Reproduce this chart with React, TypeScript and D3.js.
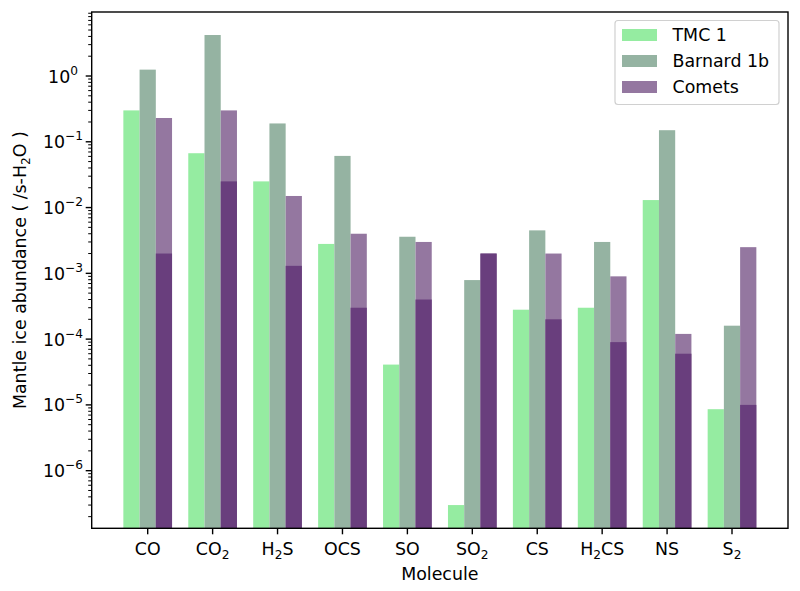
import React from 'react';
import * as d3 from 'd3';

const molecules = ['CO', 'CO2', 'H2S', 'OCS', 'SO', 'SO2', 'CS', 'H2CS', 'NS', 'S2'];
const tmc1 = [0.30, 0.067, 0.025, 0.0028, 4.1e-5, 3e-7, 2.8e-4, 3e-4, 0.013, 8.6e-6];
const barnard1b = [1.25, 4.2, 0.19, 0.061, 0.0036, 7.9e-4, 0.0045, 0.003, 0.15, 1.6e-4];
const cometsMax = [0.23, 0.30, 0.015, 0.004, 0.003, 0.002, 0.002, 9e-4, 1.2e-4, 2.5e-3];
const cometsMin = [0.002, 0.025, 0.0013, 3e-4, 4e-4, 0.002, 2e-4, 9e-5, 6e-5, 1e-5];
const decades = [-6, -5, -4, -3, -2, -1, 0];

const W = 800, H = 591;
const plot = { left: 91.7, right: 788, top: 12, bottom: 528.3 };
const font = 'DejaVu Sans, sans-serif';
const fs = 17.4;

const colors = {
  tmc: '#95eca1',
  barnard: '#95b3a2',
  cometsLight: '#9477a0',
  cometsDark: '#693e7d',
};

// split "H2CS" into chunks with subscripted digits
const chunks = (s: string) => s.match(/\d+|\D+/g) || [];

const Formula = ({ s }: { s: string }) => {
  const parts = chunks(s);
  let shifted = false;
  return (
    <>
      {parts.map((p, i) => {
        const isSub = /\d/.test(p);
        let dy = 0;
        if (isSub && !shifted) { dy = 4; shifted = true; }
        else if (!isSub && shifted) { dy = -4; shifted = false; }
        return (
          <tspan key={i} dy={dy} fontSize={isSub ? 12.2 : undefined}>{p}</tspan>
        );
      })}
    </>
  );
};

export default function App() {
  const x = d3.scaleLinear().domain([-0.8625, 9.8625]).range([plot.left, plot.right]);
  const y = d3.scaleLog().domain([1.33e-7, 9.4]).range([plot.bottom, plot.top]);
  const bw = x(0.25) - x(0);

  const minor: number[] = [];
  for (let k = -7; k <= 0; k++) {
    for (let m = 2; m <= 9; m++) {
      const v = m * Math.pow(10, k);
      if (v >= 1.33e-7 && v <= 9.4) minor.push(v);
    }
  }

  const bars = (vals: number[], off: number, fill: string, key: string) =>
    vals.map((v, i) => (
      <rect key={key + i} x={x(i + off) - bw / 2} y={y(v)} width={bw}
        height={plot.bottom - y(v)} fill={fill} />
    ));

  const legend = [
    { label: 'TMC 1', color: colors.tmc },
    { label: 'Barnard 1b', color: colors.barnard },
    { label: 'Comets', color: colors.cometsLight },
  ];

  return (
    <div style={{ position: 'absolute', left: 0, top: 0 }}>
      <svg width={W} height={H} style={{ display: 'block', background: '#fff' }} fontFamily={font}>
        <defs>
          <clipPath id="plotclip">
            <rect x={plot.left} y={plot.top} width={plot.right - plot.left} height={plot.bottom - plot.top} />
          </clipPath>
        </defs>
        <g clipPath="url(#plotclip)">
          {bars(tmc1, -0.25, colors.tmc, 't')}
          {bars(barnard1b, 0, colors.barnard, 'b')}
          {bars(cometsMax, 0.25, colors.cometsLight, 'cx')}
          {bars(cometsMin, 0.25, colors.cometsDark, 'cn')}
        </g>

        {/* y ticks */}
        {minor.map((v, i) => (
          <line key={'m' + i} x1={plot.left - 3.5} x2={plot.left} y1={y(v)} y2={y(v)} stroke="#000" strokeWidth={1} />
        ))}
        {decades.map(k => (
          <g key={'d' + k}>
            <line x1={plot.left - 6} x2={plot.left} y1={y(Math.pow(10, k))} y2={y(Math.pow(10, k))} stroke="#000" strokeWidth={1.4} />
            <text x={k === 0 ? 78 : 83} y={y(Math.pow(10, k)) + 6.5} textAnchor="end" fontSize={fs}>
              10<tspan dy={-8} fontSize={12.2}>{k < 0 ? '\u2212' + Math.abs(k) : String(k)}</tspan>
            </text>
          </g>
        ))}

        {/* x ticks */}
        {molecules.map((m, i) => (
          <g key={'x' + m}>
            <line x1={x(i)} x2={x(i)} y1={plot.bottom} y2={plot.bottom + 6} stroke="#000" strokeWidth={1.4} />
            <text x={x(i)} y={555} textAnchor="middle" fontSize={fs}><Formula s={m} /></text>
          </g>
        ))}

        <rect x={plot.left} y={plot.top} width={plot.right - plot.left} height={plot.bottom - plot.top}
          fill="none" stroke="#000" strokeWidth={1.4} />

        <text x={(plot.left + plot.right) / 2} y={580} textAnchor="middle" fontSize={fs}>Molecule</text>
        <text transform={`translate(26,${(plot.top + plot.bottom) / 2}) rotate(-90)`} textAnchor="middle" fontSize={fs}>
          Mantle ice abundance ( /s-H<tspan dy={4} fontSize={12.2}>2</tspan><tspan dy={-4}>O )</tspan>
        </text>

        {/* legend */}
        <rect x={615} y={20.5} width={164} height={84} rx={3} fill="#fff" fillOpacity={0.8} stroke="#d0d0d0" strokeWidth={1.2} />
        {legend.map((l, i) => (
          <g key={l.label}>
            <rect x={622} y={29 + i * 26} width={35} height={12} fill={l.color} />
            <text x={672.5} y={41 + i * 26} fontSize={fs}>{l.label}</text>
          </g>
        ))}
      </svg>
    </div>
  );
}
